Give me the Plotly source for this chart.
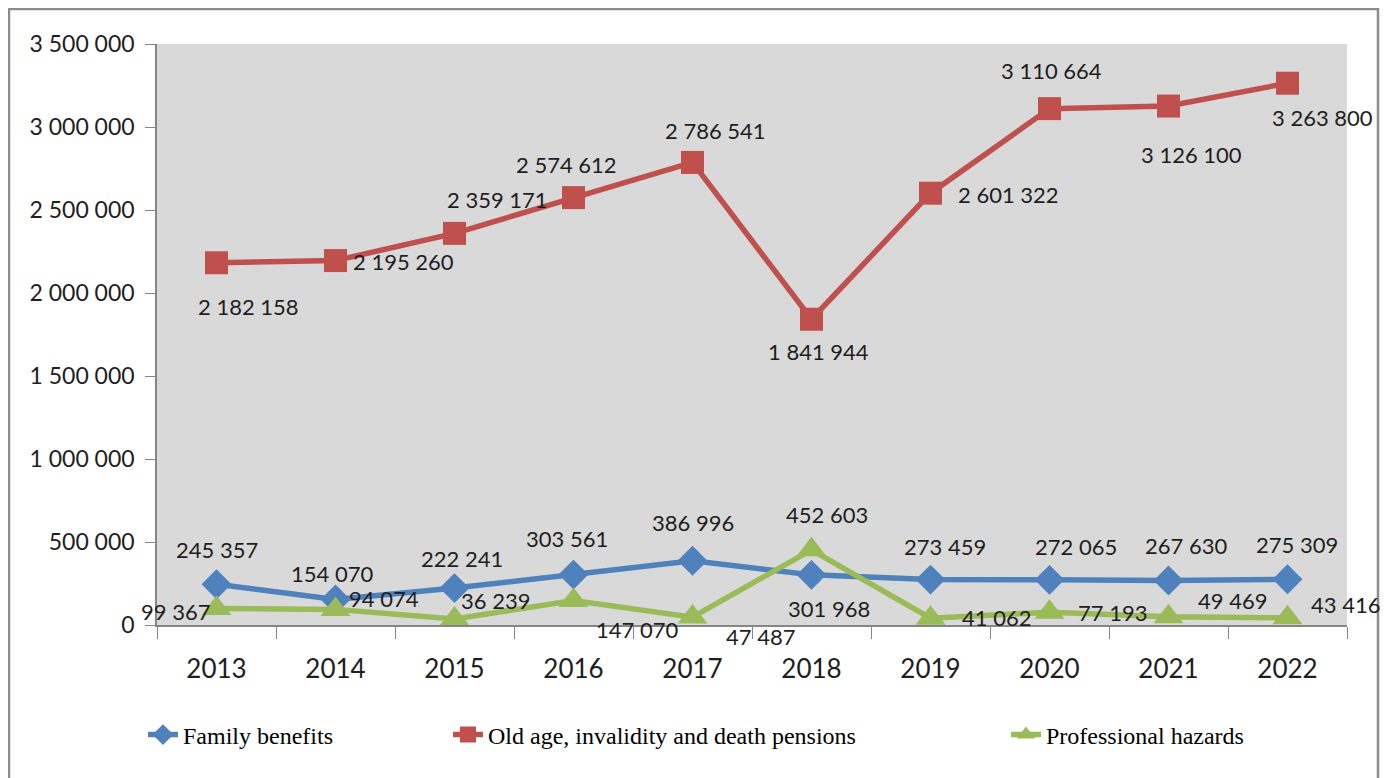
import plotly.graph_objects as go

years = ["2013", "2014", "2015", "2016", "2017", "2018", "2019", "2020", "2021", "2022"]
family = [245357, 154070, 222241, 303561, 386996, 301968, 273459, 272065, 267630, 275309]
pensions = [2182158, 2195260, 2359171, 2574612, 2786541, 1841944, 2601322, 3110664, 3126100, 3263800]
hazards = [99367, 94074, 36239, 147070, 47487, 452603, 41062, 77193, 49469, 43416]
yticks = [0, 500000, 1000000, 1500000, 2000000, 2500000, 3000000, 3500000]

# label offsets in pixels (dx right, dy down) -- presentation only
fam_off = [(0, -35), (-4, -26), (7, -30), (-7, -36), (0, -38), (17, 34), (14, -33), (26, -33), (17, -35), (9, -35)]
pen_off = [(32, 44), (68, 1), (43, -34), (-7, -33), (23, -32), (7, 32), (78, 1), (2, -38), (23, 48), (35, 34)]
haz_off = [(-41, 3), (48, -11), (41, -18), (63, 29), (68, 19), (15, -35), (66, -1), (63, 0), (64, -16), (58, -13)]

BLUE, RED, GREEN = "#4F81BD", "#C0504D", "#9BBB59"
NUM_FONT = "Lato, Liberation Sans, sans-serif"

# page body has an 8px margin; figure is sized so the plot lands where the reference has it
W, H = 1380, 770
OFF = 8

fig = go.Figure()
fig.add_trace(go.Scatter(x=years, y=family, name="Family benefits", mode="lines+markers",
                         line=dict(color=BLUE, width=5.5),
                         marker=dict(symbol="diamond", size=23, color=BLUE), legend="legend"))
fig.add_trace(go.Scatter(x=years, y=pensions, name="Old age, invalidity and death pensions", mode="lines+markers",
                         line=dict(color=RED, width=5.5),
                         marker=dict(symbol="square", size=23, color=RED), legend="legend2"))
fig.add_trace(go.Scatter(x=years, y=hazards, name="Professional hazards", mode="lines+markers",
                         line=dict(color=GREEN, width=5.5),
                         marker=dict(symbol="triangle-up", size=26, color=GREEN), legend="legend3"))

def fmt(v):
    return f"{v:,}".replace(",", " ")

annos = []
for series, offs in ((family, fam_off), (pensions, pen_off), (hazards, haz_off)):
    for i, (v, (dx, dy)) in enumerate(zip(series, offs)):
        annos.append(dict(x=i, y=v, xref="x", yref="y", text=fmt(v), showarrow=False,
                          xshift=dx, yshift=-dy, xanchor="center", yanchor="middle",
                          font=dict(family=NUM_FONT, size=22, color="#1e1e1e")))

legend_common = dict(orientation="h", xref="container", yref="container", yanchor="middle",
                     bgcolor="rgba(0,0,0,0)", borderwidth=0,
                     font=dict(family="Liberation Serif, Times New Roman, serif", size=24, color="#000000"))
ly = (778 - 735) / H

fig.update_layout(
    width=W, height=H,
    margin=dict(l=157 - OFF, r=41, t=44 - OFF, b=153),
    paper_bgcolor="white", plot_bgcolor="#D9D9D9",
    separators=". ",
    showlegend=True,
    legend=dict(x=(183 - 40 - OFF) / W, y=ly, **legend_common),
    legend2=dict(x=(488 - 40 - OFF) / W, y=ly, **legend_common),
    legend3=dict(x=(1046 - 40 - OFF) / W, y=ly, **legend_common),
    annotations=annos,
    xaxis=dict(type="category", showgrid=False, showline=True, linecolor="#868686", linewidth=1.5,
               ticks="outside", tickson="boundaries", ticklen=12, tickcolor="#868686",
               tickfont=dict(family=NUM_FONT, size=26, color="#1e1e1e"), ticklabelstandoff=20,
               range=[-0.5, 9.5]),
    yaxis=dict(range=[0, 3500000], tickvals=yticks, tickformat=",d", showgrid=False, zeroline=False,
               showline=True, linecolor="#868686", linewidth=1.5, ticks="outside", ticklen=10,
               tickcolor="#868686", tickfont=dict(family=NUM_FONT, size=23, color="#1e1e1e"),
               ticklabelstandoff=6),
    shapes=[dict(type="rect", xref="paper", yref="paper",
                 x0=(9 - 157) / 1190, x1=(1378 - 157) / 1190,
                 y0=(625 - 800) / 581, y1=(625 - 9) / 581,
                 line=dict(color="#8C8C8C", width=2.5), fillcolor="rgba(0,0,0,0)", layer="below")],
)

fig.write_html("out.html")
